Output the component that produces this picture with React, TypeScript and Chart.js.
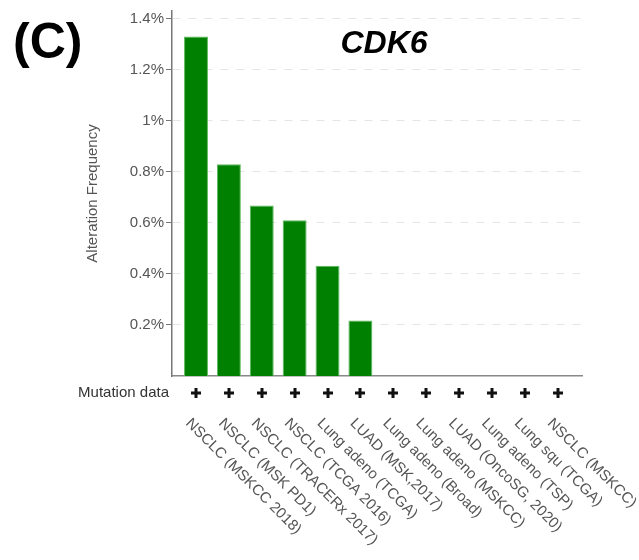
import React, { useEffect, useRef } from "react";
import { Chart, registerables } from "chart.js";

Chart.register(...registerables);

const categories = [
  "NSCLC (MSKCC 2018)",
  "NSCLC (MSK PD1)",
  "NSCLC (TRACERx 2017)",
  "NSCLC (TCGA 2016)",
  "Lung adeno (TCGA)",
  "LUAD (MSK,2017)",
  "Lung adeno (Broad)",
  "Lung adeno (MSKCC)",
  "LUAD (OncoSG, 2020)",
  "Lung adeno (TSP)",
  "Lung squ (TCGA)",
  "NSCLC (MSKCC)",
];

const frequencies = [0.0133, 0.0083, 0.00668, 0.0061, 0.00432, 0.00217, 0, 0, 0, 0, 0, 0];

const mutationData = [true, true, true, true, true, true, true, true, true, true, true, true];

const yTicks = [0.002, 0.004, 0.006, 0.008, 0.01, 0.012, 0.014];

const panelLabel = "(C)";
const geneTitle = "CDK6";
const yAxisTitle = "Alteration Frequency";
const mutationLabel = "Mutation data";

const FONT = 'Arial, "Liberation Sans", sans-serif';

const overlayPlugin = {
  id: "overlay",
  afterDraw(chart: any) {
    const ctx = chart.ctx as CanvasRenderingContext2D;
    const xs = chart.scales.x;
    ctx.save();
    // panel label
    ctx.fillStyle = "#000";
    ctx.font = `bold 50px ${FONT}`;
    ctx.textAlign = "left";
    ctx.textBaseline = "alphabetic";
    ctx.fillText(panelLabel, 13, 58);
    // gene title
    ctx.font = `italic bold 32px ${FONT}`;
    ctx.textAlign = "center";
    ctx.fillText(geneTitle, 384, 53);

    // mutation data row
    ctx.font = `15px ${FONT}`;
    ctx.fillStyle = "#333";
    ctx.textAlign = "right";
    ctx.textBaseline = "middle";
    ctx.fillText(mutationLabel, 169, 393);
    ctx.fillStyle = "#111";
    mutationData.forEach((m, i) => {
      if (!m) return;
      const cx = Math.round(xs.getPixelForValue(i));
      const cy = 393;
      ctx.fillRect(cx - 5, cy - 1.5, 10, 3);
      ctx.fillRect(cx - 1.5, cy - 5, 3, 10);
    });

    // rotated category labels
    ctx.fillStyle = "#555";
    ctx.font = `15px ${FONT}`;
    ctx.textAlign = "left";
    ctx.textBaseline = "alphabetic";
    categories.forEach((c, i) => {
      const cx = xs.getPixelForValue(i);
      ctx.save();
      ctx.translate(cx - 11, 424);
      ctx.rotate(Math.PI / 4);
      ctx.fillText(c, 0, 0);
      ctx.restore();
    });
    ctx.restore();
  },
};

export default function App() {
  const ref = useRef<HTMLCanvasElement | null>(null);

  useEffect(() => {
    if (!ref.current) return;
    const chart = new Chart(ref.current, {
      type: "bar",
      data: {
        datasets: [
          {
            data: frequencies.map((v, i) => ({ x: i, y: v })),
            backgroundColor: "#008000",
            borderColor: "#5cb85c",
            borderWidth: 1,
            barPercentage: 0.91,
            categoryPercentage: 0.8,
          },
        ],
      },
      options: {
        responsive: false,
        animation: false,
        layout: { padding: { left: 0, right: 57, top: 8, bottom: 0 } },
        plugins: { legend: { display: false }, tooltip: { enabled: false }, title: { display: false } },
        scales: {
          x: {
            type: "linear",
            offset: false,
            min: -0.73,
            max: 11.74,
            ticks: { display: false },
            grid: { display: false, drawTicks: false, offset: false },
            border: { display: true, color: "#888", width: 1.5 },
            afterFit: (s: any) => {
              s.height = 184;
            },
          },
          y: {
            type: "linear",
            min: 0,
            max: 0.0143,
            afterBuildTicks: (s: any) => {
              s.ticks = yTicks.map((v) => ({ value: v }));
            },
            ticks: {
              color: "#555",
              font: { family: FONT, size: 15 },
              padding: 2,
              callback: (v: any) => `${+(Number(v) * 100).toFixed(2)}%`,
            },
            grid: {
              color: "#e6e6e6",
              lineWidth: 1,
              tickLength: 6,
              tickColor: "#777",
              tickBorderDash: [],
            },
            border: { display: true, color: "#777", width: 1.5, dash: [8, 8] },
            title: {
              display: true,
              text: yAxisTitle,
              color: "#555",
              font: { family: FONT, size: 15 },
              padding: { top: 84, bottom: 0 },
            },
            afterFit: (s: any) => {
              s.width = 172;
            },
          },
        },
      },
      plugins: [overlayPlugin],
    } as any);
    return () => chart.destroy();
  }, []);

  return (
    <div style={{ position: "fixed", left: 0, top: 0, width: 639, height: 560, background: "#fff" }}>
      <canvas ref={ref} width={639} height={560} style={{ width: 639, height: 560, display: "block" }} />
    </div>
  );
}
